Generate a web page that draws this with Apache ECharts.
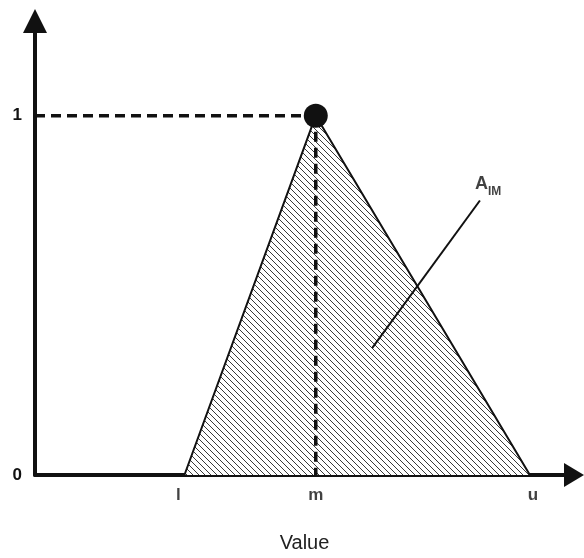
<!DOCTYPE html>
<html><head><meta charset="utf-8">
<script src="https://cdn.jsdelivr.net/npm/echarts@6/dist/echarts.min.js"></script>
<style>html,body{margin:0;padding:0;background:#fff}#c{width:584px;height:558px}</style>
</head><body><div id="c"></div>
<script>
// Triangular fuzzy number (l, m, u)
const xLabels = ['l', 'm', 'u'];
const xValues = [3.05, 5.73, 10.1];
const triangleY = [0, 1, 0];
const yTicks = [0, 1];
const xName = 'Value';
const areaLabel = 'A';
const areaLabelSub = 'IM';
const pointerLine = [[6.88, 0.353], [9.08, 0.764]];
const areaLabelPos = [8.98, 0.8125];

const canvas = document.createElement('canvas');
canvas.width = 6; canvas.height = 6;
const ctx = canvas.getContext('2d');
ctx.fillStyle = '#fff'; ctx.fillRect(0, 0, 6, 6);
ctx.fillStyle = '#3a3a3a';
for (let i = 0; i < 6; i++) ctx.fillRect(i, i, 1, 1);

const labelOffsets = [[-6, 0], [0, 0], [3, 0]];
const l = xValues[0], m = xValues[1], u = xValues[2];
const chart = echarts.init(document.getElementById('c'));
chart.setOption({
  animation: false,
  grid: { left: 35, right: 10, top: 21, bottom: 72 },
  xAxis: {
    type: 'value', min: 0, max: 11,
    name: xName, nameLocation: 'middle', nameGap: 58,
    nameTextStyle: { fontFamily: 'Liberation Sans', fontSize: 20, color: '#222' },
    axisLine: { lineStyle: { color: '#111', width: 4 }, symbol: ['none', 'triangle'], symbolSize: [24, 20] },
    axisTick: { show: false }, axisLabel: { show: false }, splitLine: { show: false }
  },
  yAxis: {
    type: 'value', min: 0, max: 1.2636, interval: 1,
    axisLine: { show: true, lineStyle: { color: '#111', width: 4 }, symbol: ['none', 'triangle'], symbolSize: [24, 24] },
    axisTick: { show: false }, splitLine: { show: false },
    axisLabel: {
      margin: 13, fontFamily: 'Liberation Sans', fontSize: 17, fontWeight: 'bold', color: '#111',
      formatter: v => (yTicks.indexOf(v) >= 0 ? String(v) : '')
    }
  },
  series: [
    {
      type: 'line', symbol: 'none', z: 2,
      data: xValues.map((x, i) => [x, triangleY[i]]),
      lineStyle: { color: '#111', width: 2 },
      areaStyle: { color: { image: canvas, repeat: 'repeat' }, opacity: 1 }
    },
    {
      type: 'line', symbol: 'none', z: 3,
      data: [[0, 1], [m, 1]],
      lineStyle: { color: '#111', width: 3.5, type: [10, 6] }
    },
    {
      type: 'line', symbol: 'none', z: 3,
      data: [[m, 1], [m, 0]],
      lineStyle: { color: '#111', width: 3.5, type: [10, 6] }
    },
    {
      type: 'line', symbol: 'none', z: 3,
      data: pointerLine,
      lineStyle: { color: '#111', width: 2 }
    },
    {
      type: 'scatter', z: 4, symbol: 'circle', symbolSize: 24,
      itemStyle: { color: '#111', opacity: 1 },
      data: [[m, 1]]
    },
    {
      type: 'scatter', z: 4, symbolSize: 0,
      data: xValues.map((x, i) => ({ value: [x, 0], name: xLabels[i], label: { offset: labelOffsets[i] } })),
      label: {
        show: true, position: 'bottom', distance: 12,
        formatter: p => p.name,
        fontFamily: 'Liberation Sans', fontSize: 17, fontWeight: 'bold', color: '#111'
      }
    },
    {
      type: 'scatter', z: 4, symbolSize: 0,
      data: [areaLabelPos],
      label: {
        show: true, position: 'right', distance: 0,
        formatter: '{a|' + areaLabel + '}{s|' + areaLabelSub + '}',
        rich: {
          a: { fontFamily: 'Liberation Sans', fontSize: 18, fontWeight: 'bold', color: '#111', lineHeight: 20, verticalAlign: 'bottom' },
          s: { fontFamily: 'Liberation Sans', fontSize: 12, fontWeight: 'bold', color: '#111', lineHeight: 20, verticalAlign: 'bottom', padding: [0, 0, -5, 0] }
        }
      }
    }
  ]
});
</script></body></html>
